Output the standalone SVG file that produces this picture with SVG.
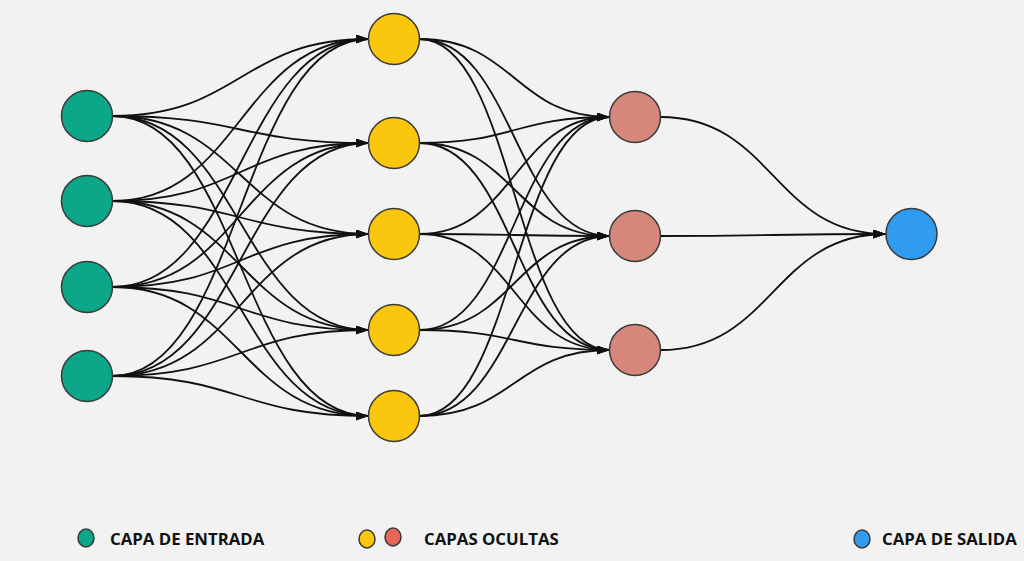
<svg xmlns="http://www.w3.org/2000/svg" width="1024" height="561" viewBox="0 0 1024 561">
<style>
.e{fill:none;stroke:#111;stroke-width:1.8;marker-end:url(#a)}
.n{stroke:#3a3a3a;stroke-width:1.5}
.in{fill:#0ca789}.h1{fill:#fac70e}.h2{fill:#d6867a}.out{fill:#2f9cf0}.h2l{fill:#e8675a}
.t{font-family:"Open Sans","Liberation Sans",sans-serif;font-weight:bold;font-size:16.8px;fill:#111}
</style>
<defs>
<marker id="a" markerUnits="userSpaceOnUse" markerWidth="14" markerHeight="10" refX="13" refY="4.5" orient="auto" viewBox="0 0 14 10">
<path d="M0,0 L13,4.5 L0,9 z" fill="#111"/>
</marker>
</defs>
<rect width="1024" height="561" fill="#f2f2f2"/>
<g id="connectors">
<path class="e" d="M112.5,116 C240.5,116 240.5,39 368.5,39"/>
<path class="e" d="M112.5,116 C240.5,116 240.5,143 368.5,143"/>
<path class="e" d="M112.5,116 C240.5,116 240.5,234 368.5,234"/>
<path class="e" d="M112.5,116 C240.5,116 240.5,330 368.5,330"/>
<path class="e" d="M112.5,116 C240.5,116 240.5,416 368.5,416"/>
<path class="e" d="M112.5,201 C240.5,201 240.5,39 368.5,39"/>
<path class="e" d="M112.5,201 C240.5,201 240.5,143 368.5,143"/>
<path class="e" d="M112.5,201 C240.5,201 240.5,234 368.5,234"/>
<path class="e" d="M112.5,201 C240.5,201 240.5,330 368.5,330"/>
<path class="e" d="M112.5,201 C240.5,201 240.5,416 368.5,416"/>
<path class="e" d="M112.5,287 C240.5,287 240.5,39 368.5,39"/>
<path class="e" d="M112.5,287 C240.5,287 240.5,143 368.5,143"/>
<path class="e" d="M112.5,287 C240.5,287 240.5,234 368.5,234"/>
<path class="e" d="M112.5,287 C240.5,287 240.5,330 368.5,330"/>
<path class="e" d="M112.5,287 C240.5,287 240.5,416 368.5,416"/>
<path class="e" d="M112.5,376 C240.5,376 240.5,39 368.5,39"/>
<path class="e" d="M112.5,376 C240.5,376 240.5,143 368.5,143"/>
<path class="e" d="M112.5,376 C240.5,376 240.5,234 368.5,234"/>
<path class="e" d="M112.5,376 C240.5,376 240.5,330 368.5,330"/>
<path class="e" d="M112.5,376 C240.5,376 240.5,416 368.5,416"/>
<path class="e" d="M419.5,39 C514.5,39 514.5,117 609.5,117"/>
<path class="e" d="M419.5,39 C514.5,39 514.5,236 609.5,236"/>
<path class="e" d="M419.5,39 C514.5,39 514.5,350 609.5,350"/>
<path class="e" d="M419.5,143 C514.5,143 514.5,117 609.5,117"/>
<path class="e" d="M419.5,143 C514.5,143 514.5,236 609.5,236"/>
<path class="e" d="M419.5,143 C514.5,143 514.5,350 609.5,350"/>
<path class="e" d="M419.5,234 C514.5,234 514.5,117 609.5,117"/>
<path class="e" d="M419.5,234 C514.5,234 514.5,236 609.5,236"/>
<path class="e" d="M419.5,234 C514.5,234 514.5,350 609.5,350"/>
<path class="e" d="M419.5,330 C514.5,330 514.5,117 609.5,117"/>
<path class="e" d="M419.5,330 C514.5,330 514.5,236 609.5,236"/>
<path class="e" d="M419.5,330 C514.5,330 514.5,350 609.5,350"/>
<path class="e" d="M419.5,416 C514.5,416 514.5,117 609.5,117"/>
<path class="e" d="M419.5,416 C514.5,416 514.5,236 609.5,236"/>
<path class="e" d="M419.5,416 C514.5,416 514.5,350 609.5,350"/>
<path class="e" d="M660.5,117 C773,117 773,234 886,234"/>
<path class="e" d="M660.5,236 C773,236 773,234 886,234"/>
<path class="e" d="M660.5,350 C773,350 773,234 886,234"/>
</g>
<g id="in1"><circle class="n in" cx="87" cy="116" r="25.5"/></g>
<g id="in2"><circle class="n in" cx="87" cy="201" r="25.5"/></g>
<g id="in3"><circle class="n in" cx="87" cy="287" r="25.5"/></g>
<g id="in4"><circle class="n in" cx="87" cy="376" r="25.5"/></g>
<g id="h1a"><circle class="n h1" cx="394" cy="39" r="25.5"/></g>
<g id="h1b"><circle class="n h1" cx="394" cy="143" r="25.5"/></g>
<g id="h1c"><circle class="n h1" cx="394" cy="234" r="25.5"/></g>
<g id="h1d"><circle class="n h1" cx="394" cy="330" r="25.5"/></g>
<g id="h1e"><circle class="n h1" cx="394" cy="416" r="25.5"/></g>
<g id="h2a"><circle class="n h2" cx="635" cy="117" r="25.5"/></g>
<g id="h2b"><circle class="n h2" cx="635" cy="236" r="25.5"/></g>
<g id="h2c"><circle class="n h2" cx="635" cy="350" r="25.5"/></g>
<g id="out"><circle class="n out" cx="911.5" cy="234" r="25.5"/></g>
<g id="legend">
<ellipse class="n in" cx="86" cy="538" rx="8" ry="9"/>
<text class="t" x="110" y="545">CAPA DE ENTRADA</text>
<ellipse class="n h1" cx="367" cy="539" rx="8" ry="9"/>
<ellipse class="n h2l" cx="393" cy="537" rx="8" ry="9"/>
<text class="t" x="424" y="545">CAPAS OCULTAS</text>
<ellipse class="n out" cx="862" cy="539" rx="8" ry="9"/>
<text class="t" x="882" y="545">CAPA DE SALIDA</text>
</g>
</svg>
